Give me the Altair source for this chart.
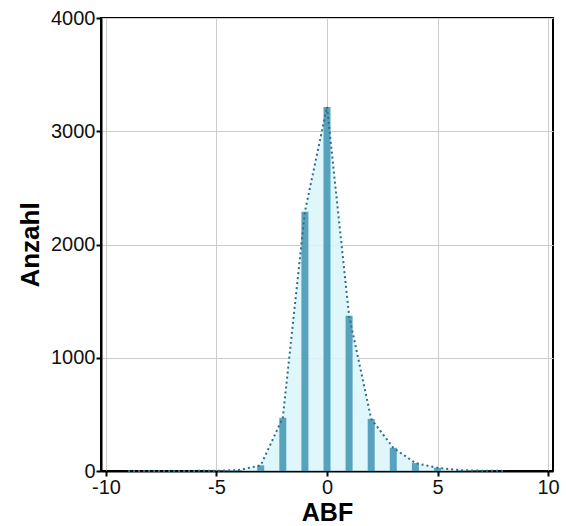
import altair as alt
import pandas as pd

abf = [-9, -8, -7, -6, -5, -4, -3, -2, -1, 0, 1, 2, 3, 4, 5, 6, 7, 8]
anzahl = [1, 1, 1, 1, 2, 8, 50, 470, 2290, 3215, 1370, 460, 205, 70, 28, 8, 3, 1]

df = pd.DataFrame({"ABF": abf, "Anzahl": anzahl})

x = alt.X("ABF:Q", scale=alt.Scale(domain=[-10, 10], nice=False),
          axis=alt.Axis(values=[-10, -5, 0, 5, 10], title="ABF",
                        labelExpr="datum.value + ''"))
y = alt.Y("Anzahl:Q", scale=alt.Scale(domain=[0, 4000], nice=False),
          axis=alt.Axis(values=[0, 1000, 2000, 3000, 4000], title="Anzahl",
                        labelExpr="datum.value + ''"))

base = alt.Chart(df)
area = base.mark_area(color="#d9f5fa", opacity=0.85).encode(x=x, y=y)
bars = base.mark_bar(size=7, color="#3f93b0", opacity=0.85).encode(x=x, y=y)
line = base.mark_line(color="#2d6e8a", strokeDash=[2, 3], strokeWidth=2).encode(x=x, y=y)

chart = (area + bars + line).properties(
    width=452, height=453,
    autosize=alt.AutoSizeParams(type="none"),
    padding={"left": 101, "top": 18, "right": 13, "bottom": 55},
).configure_view(
    stroke="black", strokeWidth=2
).configure_axis(
    domainColor="black", domainWidth=2, tickColor="black", tickWidth=2, tickSize=5,
    gridColor="#cccccc", gridWidth=1,
    labelFont="Liberation Sans", labelFontSize=20, labelColor="#111111",
    titleFont="Liberation Sans", titleFontSize=26, titleFontWeight="bold", titleColor="black",
    labelPadding=1,
).configure_axisX(titlePadding=3, labelFlush=False, labelPadding=1, titleFontSize=25).configure_axisY(titlePadding=7)

chart.save("out.html", embed_options={"renderer": "svg", "actions": False})
